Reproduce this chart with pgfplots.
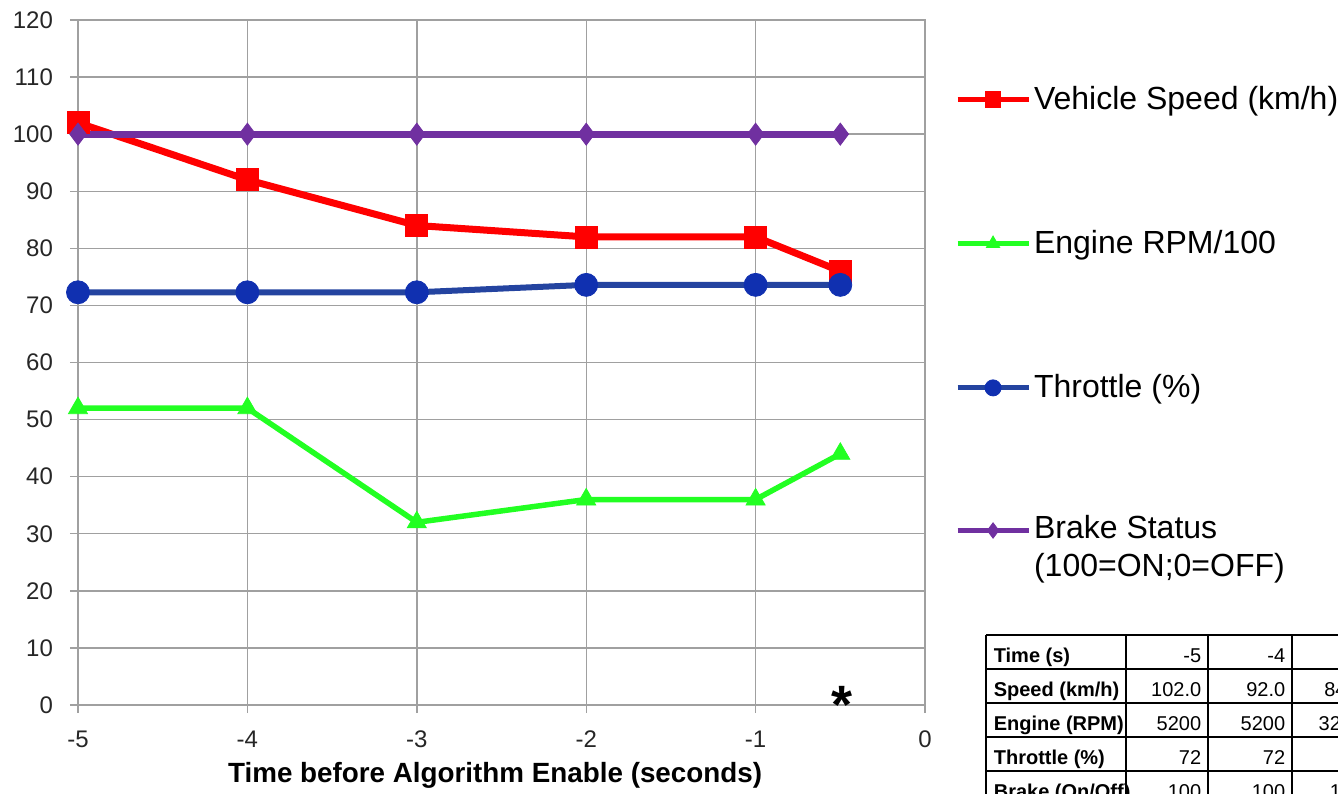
\documentclass[border=0pt]{standalone}
\usepackage{pgfplots}
\pgfplotsset{compat=1.18}
\usepackage{fontspec}
\setmainfont{Liberation Sans}

\definecolor{speedred}{HTML}{FF0000}
\definecolor{rpmgreen}{HTML}{22FF22}
\definecolor{thrblue}{HTML}{2444A0}
\definecolor{thrmark}{HTML}{1030B0}
\definecolor{brakepurple}{HTML}{7030A0}
\definecolor{gridgray}{HTML}{A0A0A0}
\definecolor{labelgray}{HTML}{262626}

\begin{document}
\begin{tikzpicture}
\useasboundingbox (0,0) rectangle (669pt,396.5pt);
\clip (0,0) rectangle (669pt,396.5pt);

\begin{axis}[
  at={(39pt,44pt)}, anchor=south west,
  scale only axis, width=423.5pt, height=342.5pt,
  xmin=-5, xmax=0, ymin=0, ymax=120,
  xtick={-5,-4,-3,-2,-1,0},
  ytick={0,10,...,120},
  xtick pos=bottom, ytick pos=left,
  grid=major,
  grid style={gridgray, line width=0.7pt},
  axis line style={gridgray, line width=0.7pt},
  tick align=outside,
  major tick length=4pt,
  tick style={gridgray, line width=0.7pt},
  /pgf/number format/assume math mode=true,
  tick label style={font=\fontsize{12}{14}\selectfont, text=labelgray},
  yticklabel style={xshift=-5pt},
  xticklabel style={yshift=-5.5pt},
  xlabel={\bfseries Time before Algorithm Enable (seconds)},
  xlabel style={font=\fontsize{13.9}{16}\selectfont, at={(axis description cs:0.5,-0.102)}, anchor=center, xshift=-3.2pt},
  clip=false,
  legend style={
    at={(1.035,0.908)}, anchor=north west,
    draw=none, fill=none, inner sep=0pt,
    row sep=56pt,
    font=\fontsize{16}{19}\selectfont,
    nodes={inner sep=1.5pt},
  },
  legend cell align=left,
  legend image code/.code={%
    \draw[mark repeat=2, mark phase=2, #1, line width=2.5pt,
          every mark/.append style={scale=0.7}]
      plot coordinates {(0pt,0pt) (17.75pt,0pt) (35.5pt,0pt)};%
  },
]

% Vehicle speed (km/h)
\addplot[color=speedred, line width=3.5pt, mark=square*, mark size=5.5pt,
  mark options={solid, line width=0.4pt, fill=speedred}]
  coordinates {(-5,102) (-4,92) (-3,84) (-2,82) (-1,82) (-0.5,76)};
\addlegendentry{Vehicle Speed (km/h)}

% Engine speed, scaled by 1/100
\addplot[color=rpmgreen, line width=2.75pt, mark=triangle*, mark size=5.5pt,
  mark options={solid, line width=0.4pt, fill=rpmgreen}]
  coordinates {(-5,52) (-4,52) (-3,32) (-2,36) (-1,36) (-0.5,44)};
\addlegendentry{Engine RPM/100}

% Throttle position (%)
\addplot[color=thrblue, line width=3pt, mark=*, mark size=5.75pt,
  mark options={solid, line width=0.4pt, draw=thrmark, fill=thrmark}]
  coordinates {(-5,72.3) (-4,72.3) (-3,72.3) (-2,73.6) (-1,73.6) (-0.5,73.6)};
\addlegendentry{Throttle (\%)}

% Brake status
\addplot[color=brakepurple, line width=3.5pt, mark=diamond*, mark size=5.5pt,
  mark options={solid, line width=0.4pt, fill=brakepurple}]
  coordinates {(-5,100) (-4,100) (-3,100) (-2,100) (-1,100) (-0.5,100)};
\addlegendentry{\raisebox{0pt}[10pt]{\begin{tabular}[t]{@{}l@{}}Brake Status\\(100=ON;0=OFF)\end{tabular}}}

% algorithm enable instant
\addplot[only marks, mark=text, color=black,
  text mark={\fontsize{27}{27}\selectfont\bfseries *}, forget plot]
  coordinates {(-0.49,0)};
\end{axis}

% data table (px-based coordinates, origin top-left)
\begin{scope}[x=0.5pt, y=-0.5pt, shift={(0pt,396.5pt)}, line width=0.8pt]
  \foreach \yy in {635,669,703,737,771,805}
    \draw (986,\yy) -- (1800,\yy);
  \foreach \xx in {986,1126,1208,1292,1370,1452,1534,1616}
    \draw (\xx,635) -- (\xx,840);
  \begin{scope}[every node/.style={font=\fontsize{10}{12}\selectfont, inner sep=0pt}]
    \node[anchor=base west] at (993,662) {\bfseries Time (s)};
    \node[anchor=base west] at (993,696) {\bfseries Speed (km/h)};
    \node[anchor=base west] at (993,730) {\bfseries Engine (RPM)};
    \node[anchor=base west] at (993,764) {\bfseries Throttle (\%)};
    \node[anchor=base west] at (993,798) {\bfseries Brake (On/Off)};
    % column -5
    \node[anchor=base east] at (1202,662) {-5};
    \node[anchor=base east] at (1202,696) {102.0};
    \node[anchor=base east] at (1202,730) {5200};
    \node[anchor=base east] at (1202,764) {72};
    \node[anchor=base east] at (1202,798) {100};
    % column -4
    \node[anchor=base east] at (1286,662) {-4};
    \node[anchor=base east] at (1286,696) {92.0};
    \node[anchor=base east] at (1286,730) {5200};
    \node[anchor=base east] at (1286,764) {72};
    \node[anchor=base east] at (1286,798) {100};
    % column -3
    \node[anchor=base east] at (1364,662) {-3};
    \node[anchor=base east] at (1364,696) {84.0};
    \node[anchor=base east] at (1364,730) {3200};
    \node[anchor=base east] at (1364,764) {72};
    \node[anchor=base east] at (1364,798) {100};
  \end{scope}
\end{scope}
\end{tikzpicture}
\end{document}
